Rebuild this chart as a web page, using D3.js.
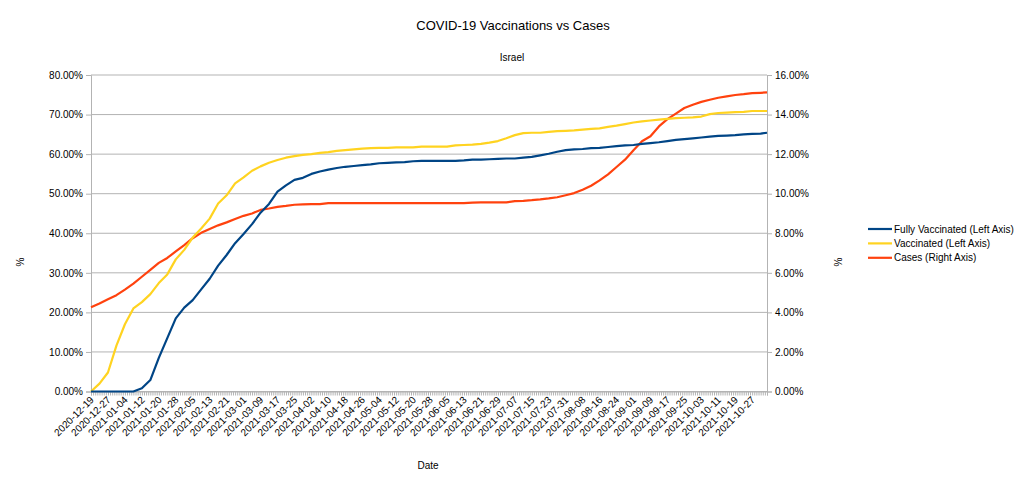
<!DOCTYPE html>
<html><head><meta charset="utf-8">
<script src="https://cdn.jsdelivr.net/npm/d3@7"></script>
<style>
html,body{margin:0;padding:0;background:#fff;}
svg{display:block;font-family:"Liberation Sans",Arial,sans-serif;}
</style></head>
<body><svg id="c" width="1029" height="486"></svg>
<script>
// ---- data ----
const startDate = "2020-12-19";
const dayCount = 320;
const sampleStep = 4; // values read every 4th day (plus last day)
const tickLabels = ["2020-12-19","2020-12-27","2021-01-04","2021-01-12","2021-01-20","2021-01-28","2021-02-05","2021-02-13","2021-02-21","2021-03-01","2021-03-09","2021-03-17","2021-03-25","2021-04-02","2021-04-10","2021-04-18","2021-04-26","2021-05-04","2021-05-12","2021-05-20","2021-05-28","2021-06-05","2021-06-13","2021-06-21","2021-06-29","2021-07-07","2021-07-15","2021-07-23","2021-07-31","2021-08-08","2021-08-16","2021-08-24","2021-09-01","2021-09-09","2021-09-17","2021-09-25","2021-10-03","2021-10-11","2021-10-19","2021-10-27"];
const fullyVaccinated = [0,0,0,0,0,0,0.8,2.9,8.5,13.5,18.5,21.2,23.1,25.8,28.5,31.8,34.5,37.5,39.8,42.3,45.2,47.4,50.5,52.1,53.5,54.0,55.0,55.6,56.1,56.5,56.8,57.0,57.2,57.4,57.7,57.8,57.9,58.0,58.2,58.3,58.3,58.3,58.3,58.3,58.4,58.6,58.6,58.7,58.8,58.9,58.9,59.1,59.3,59.7,60.1,60.6,61.0,61.2,61.3,61.5,61.6,61.8,62.0,62.2,62.3,62.6,62.8,63.0,63.3,63.6,63.8,64.0,64.2,64.4,64.6,64.7,64.8,65.0,65.1,65.2,65.4];
const vaccinated = [0,2.0,4.8,11.6,17.0,21.0,22.6,24.6,27.4,29.6,33.4,35.8,38.9,41.2,43.7,47.5,49.6,52.6,54.1,55.8,56.9,57.8,58.5,59.1,59.5,59.8,60.0,60.3,60.5,60.8,61.0,61.2,61.4,61.5,61.6,61.6,61.7,61.7,61.7,61.9,61.9,61.9,61.9,62.2,62.3,62.4,62.6,62.9,63.3,64.0,64.8,65.3,65.4,65.4,65.6,65.8,65.9,66.0,66.2,66.4,66.5,66.9,67.2,67.6,68.0,68.3,68.5,68.7,68.9,69.1,69.2,69.3,69.5,70.1,70.4,70.5,70.6,70.7,70.9,70.9,70.9];
const cases = [4.26,4.45,4.66,4.87,5.15,5.45,5.80,6.15,6.50,6.75,7.08,7.40,7.75,8.02,8.22,8.40,8.55,8.72,8.88,9.00,9.18,9.25,9.33,9.38,9.44,9.46,9.47,9.47,9.52,9.52,9.52,9.52,9.52,9.52,9.52,9.52,9.52,9.52,9.52,9.52,9.52,9.52,9.52,9.52,9.52,9.55,9.56,9.56,9.56,9.56,9.62,9.64,9.67,9.71,9.76,9.82,9.92,10.03,10.20,10.40,10.67,10.98,11.35,11.72,12.20,12.65,12.90,13.40,13.77,14.05,14.33,14.50,14.64,14.75,14.85,14.92,14.99,15.03,15.08,15.10,15.12];
const leftTicks = [0,10,20,30,40,50,60,70,80];
const rightTicks = [0,2,4,6,8,10,12,14,16];
const seriesNames = ["Fully Vaccinated (Left Axis)","Vaccinated (Left Axis)","Cases (Right Axis)"];
const seriesColors = ["#004586","#ffd320","#ff420e"];

// ---- build ----
const fmt = d3.timeFormat("%Y-%m-%d");
const start = d3.timeParse("%Y-%m-%d")(startDate);
const categories = d3.timeDay.range(start, d3.timeDay.offset(start, dayCount)).map(fmt);
const sampleDates = categories.filter((d,i)=> i % sampleStep === 0 || i === categories.length-1);

const svg = d3.select("#c");
const L = 91, R = 767, T = 75, B = 391.5;
const x = d3.scalePoint().domain(categories).range([L, R]);
const yL = d3.scaleLinear().domain([0,80]).range([B, T]);
const yR = d3.scaleLinear().domain([0,16]).range([B, T]);
const grid = "#b3b3b3";

// gridlines
svg.append("g").selectAll("line").data(leftTicks).join("line")
  .attr("x1", L).attr("x2", R).attr("y1", d=>yL(d)).attr("y2", d=>yL(d))
  .attr("stroke", grid).attr("stroke-width", 1);

// left axis
const gl = svg.append("g").attr("transform", `translate(${L},0)`)
  .call(d3.axisLeft(yL).tickValues(leftTicks).tickSize(5).tickPadding(3).tickFormat(d=>d.toFixed(2)+"%"));
const gr = svg.append("g").attr("transform", `translate(${R},0)`)
  .call(d3.axisRight(yR).tickValues(rightTicks).tickSize(5).tickPadding(3).tickFormat(d=>d.toFixed(2)+"%"));
const gb = svg.append("g").attr("transform", `translate(0,${B})`)
  .call(d3.axisBottom(x).tickValues(categories).tickSize(4).tickFormat(""));
const gbl = svg.append("g").attr("transform", `translate(0,${B})`)
  .call(d3.axisBottom(x).tickValues(tickLabels).tickSize(0).tickFormat(d=>d));
[gl,gr,gb,gbl].forEach(g=>{
  g.selectAll(".domain").attr("stroke", grid).attr("stroke-width",1);
  g.selectAll(".tick line").attr("stroke", grid);
  g.selectAll("text").attr("fill","#000").attr("font-size","10px").attr("font-family","Liberation Sans, Arial, sans-serif");
});
gbl.select(".domain").remove();
gbl.selectAll("text").attr("text-anchor","end").attr("dy",null).attr("y",0)
  .attr("transform","translate(3,9) rotate(-45)");

// lines
const lineL = d3.line().x((d,i)=>x(sampleDates[i])).y(d=>yL(d));
const lineR = d3.line().x((d,i)=>x(sampleDates[i])).y(d=>yR(d));
const lg = svg.append("g").attr("fill","none").attr("stroke-width",2.2).attr("stroke-linejoin","round");
lg.append("path").attr("d", lineR(cases)).attr("stroke", seriesColors[2]);
lg.append("path").attr("d", lineL(vaccinated)).attr("stroke", seriesColors[1]);
lg.append("path").attr("d", lineL(fullyVaccinated)).attr("stroke", seriesColors[0]);

// titles
svg.append("text").attr("x",513).attr("y",30).attr("text-anchor","middle").attr("font-size","13px").text("COVID-19 Vaccinations vs Cases");
svg.append("text").attr("x",512).attr("y",61).attr("text-anchor","middle").attr("font-size","10px").text("Israel");
svg.append("text").attr("x",428).attr("y",469).attr("text-anchor","middle").attr("font-size","10px").text("Date");
svg.append("text").attr("transform","translate(24,262) rotate(-90)").attr("text-anchor","middle").attr("font-size","10px").text("%");
svg.append("text").attr("transform","translate(842,262) rotate(-90)").attr("text-anchor","middle").attr("font-size","10px").text("%");

// legend
const leg = svg.append("g").selectAll("g").data(seriesNames).join("g")
  .attr("transform",(d,i)=>`translate(868,${229 + i*14.4})`);
leg.append("line").attr("x1",0).attr("x2",24).attr("stroke",(d,i)=>seriesColors[i]).attr("stroke-width",2.2);
leg.append("text").attr("x",26).attr("dy","0.35em").attr("font-size","10px").text(d=>d);
</script></body></html>
